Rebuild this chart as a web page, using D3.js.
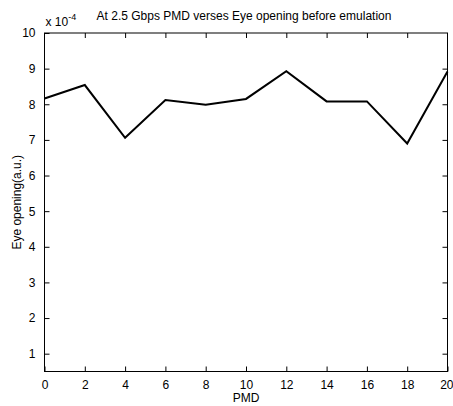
<!DOCTYPE html>
<html>
<head>
<meta charset="utf-8">
<script src="https://cdn.jsdelivr.net/npm/d3@7"></script>
<style>
  body { margin: 0; background: #fff; }
  text { font-family: "Liberation Sans", Arial, sans-serif; fill: #000; }
</style>
</head>
<body>
<div id="chart"></div>
<script>
const width = 453;
const height = 406;

const pmd = [0, 2, 4, 6, 8, 10, 12, 14, 16, 18, 20];
const eyeOpening = [8.16, 8.54, 7.06, 8.12, 7.99, 8.15, 8.93, 8.08, 8.08, 6.9, 8.92];
const xTicks = [0, 2, 4, 6, 8, 10, 12, 14, 16, 18, 20];
const yTicks = [1, 2, 3, 4, 5, 6, 7, 8, 9, 10];

const margin = { top: 33, right: 5.5, bottom: 34, left: 44.5 };

const svg = d3.select('#chart')
    .append('svg')
    .attr('width', width)
    .attr('height', height);

const x = d3.scaleLinear()
    .domain([0, 20])
    .range([margin.left, width - margin.right]);

const y = d3.scaleLinear()
    .domain([0.5, 10])
    .range([height - margin.bottom - 0.5, margin.top]);

// box
svg.append('rect')
    .attr('x', x(0))
    .attr('y', y(10))
    .attr('width', x(20) - x(0))
    .attr('height', y(0.5) - y(10))
    .style('fill', 'none')
    .style('stroke', '#000')
    .style('stroke-width', 1);

const tickLen = 5;

// x ticks bottom and top (inward)
svg.append('g')
    .attr('transform', `translate(0,${y(0.5)})`)
    .call(d3.axisBottom(x).tickValues(xTicks).tickSizeInner(-tickLen).tickSizeOuter(0).tickPadding(9))
    .call(g => g.select('.domain').remove())
    .call(g => g.selectAll('text').style('font-size', '12px').style('font-family', '"Liberation Sans", Arial, sans-serif'))
    .call(g => g.selectAll('.tick').filter(d => d === 20).select('text')
        .attr('text-anchor', 'end').attr('x', width - x(20)));

svg.append('g')
    .attr('transform', `translate(0,${y(10)})`)
    .call(d3.axisTop(x).tickValues(xTicks.slice(1, -1)).tickSizeInner(-tickLen).tickSizeOuter(0).tickFormat(''))
    .call(g => g.select('.domain').remove());

// y ticks left and right
svg.append('g')
    .attr('transform', `translate(${x(0)},0)`)
    .call(d3.axisLeft(y).tickValues(yTicks).tickSizeInner(-tickLen).tickSizeOuter(0).tickPadding(9))
    .call(g => g.select('.domain').remove())
    .call(g => g.selectAll('text').style('font-size', '12px').style('font-family', '"Liberation Sans", Arial, sans-serif'));

svg.append('g')
    .attr('transform', `translate(${x(20)},0)`)
    .call(d3.axisRight(y).tickValues(yTicks.slice(0, -1)).tickSizeInner(-tickLen).tickSizeOuter(0).tickFormat(''))
    .call(g => g.select('.domain').remove());

// the data line
const line = d3.line()
    .x((d, i) => x(pmd[i]))
    .y(d => y(d));

svg.append('path')
    .datum(eyeOpening)
    .attr('d', line)
    .style('fill', 'none')
    .style('stroke', '#000')
    .style('stroke-width', 2)
    .style('stroke-linejoin', 'miter');

// exponent label
const expo = svg.append('text')
    .attr('x', x(0) + 1)
    .attr('y', 26)
    .style('font-size', '12px');
expo.append('tspan').text('x 10');
expo.append('tspan').attr('dy', -6).style('font-size', '9px').text('-4');

// title
svg.append('text')
    .attr('x', 244)
    .attr('y', 20)
    .attr('text-anchor', 'middle')
    .style('font-size', '12px')
    .text('At 2.5 Gbps PMD verses Eye opening before emulation');

// axis labels
svg.append('text')
    .attr('x', (x(0) + x(20)) / 2)
    .attr('y', 402)
    .attr('text-anchor', 'middle')
    .style('font-size', '12px')
    .text('PMD');

svg.append('text')
    .attr('transform', `translate(21,${(y(0.5) + y(10)) / 2}) rotate(-90)`)
    .attr('text-anchor', 'middle')
    .style('font-size', '12px')
    .text('Eye opening(a.u.)');
</script>
</body>
</html>
